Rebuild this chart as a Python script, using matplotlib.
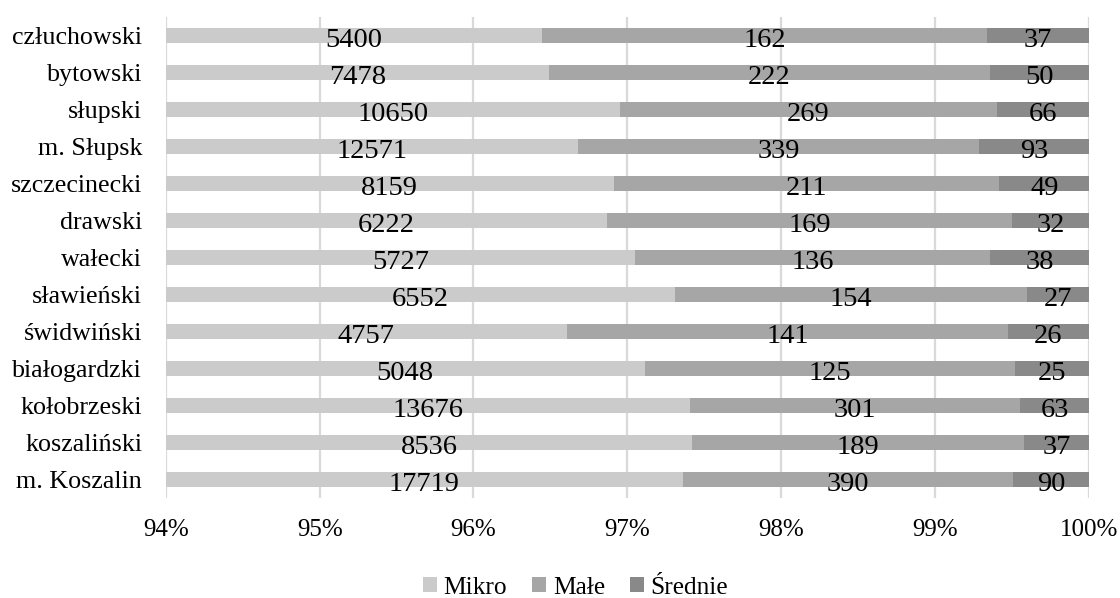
import numpy as np
import matplotlib.pyplot as plt
from matplotlib.ticker import FuncFormatter

plt.rcParams['font.family'] = ['Liberation Serif', 'DejaVu Serif']

# counties, listed bottom to top
powiaty = ["m. Koszalin", "koszaliński", "kołobrzeski", "białogardzki", "świdwiński",
           "sławieński", "wałecki", "drawski", "szczecinecki", "m. Słupsk",
           "słupski", "bytowski", "człuchowski"]
mikro = [17719, 8536, 13676, 5048, 4757, 6552, 5727, 6222, 8159, 12571, 10650, 7478, 5400]
male = [390, 189, 301, 125, 141, 154, 136, 169, 211, 339, 269, 222, 162]
srednie = [90, 37, 63, 25, 26, 27, 38, 32, 49, 93, 66, 50, 37]

series = [("Mikro", mikro, "#cbcbcb"),
          ("Małe", male, "#a6a6a6"),
          ("Średnie", srednie, "#898989")]

xmin, xmax = 0.94, 1.0
totals = np.array(mikro) + np.array(male) + np.array(srednie)
y = np.arange(len(powiaty))

fig = plt.figure(figsize=(11.2, 5.98), dpi=100)
ax = fig.add_axes([0.148, 0.167, 0.8243, 0.8049])

left = np.zeros(len(powiaty))
for name, vals, color in series:
    share = np.array(vals) / totals
    ax.barh(y, share, left=left, height=0.4, color=color, label=name, zorder=2)
    # label sits in the middle of the visible part of each segment
    lo = np.clip(left, xmin, xmax)
    hi = np.clip(left + share, xmin, xmax)
    for yi, v, a, b in zip(y, vals, lo, hi):
        ax.annotate(str(v), ((a + b) / 2, yi), xytext=(0, -8.3),
                    textcoords="offset points", ha="center", va="baseline",
                    fontsize=20.5, color="black", zorder=3)
    left = left + share

ax.set_xlim(xmin, xmax)
ax.set_ylim(-0.5, len(powiaty) - 0.5)
ax.set_xticks(np.arange(0.94, 1.0001, 0.01))
ax.xaxis.set_major_formatter(FuncFormatter(lambda v, p: f"{v * 100:.0f}%"))
ax.set_yticks(y)
ax.set_yticklabels(powiaty)
ax.tick_params(axis="both", length=0)
ax.tick_params(axis="y", pad=17, labelsize=18.7)
ax.tick_params(axis="x", pad=15, labelsize=18)
ax.grid(axis="x", color="#d9d9d9", linewidth=1.6, zorder=0)
ax.set_axisbelow(True)
for s in ax.spines.values():
    s.set_visible(False)

fig.legend(loc="center", bbox_to_anchor=(0.514, 0.017), ncol=3, frameon=False,
           fontsize=18.3, handlelength=0.55, handleheight=0.55, handletextpad=0.25,
           columnspacing=1.0, borderpad=0)

fig.savefig("out.png", dpi=100)
